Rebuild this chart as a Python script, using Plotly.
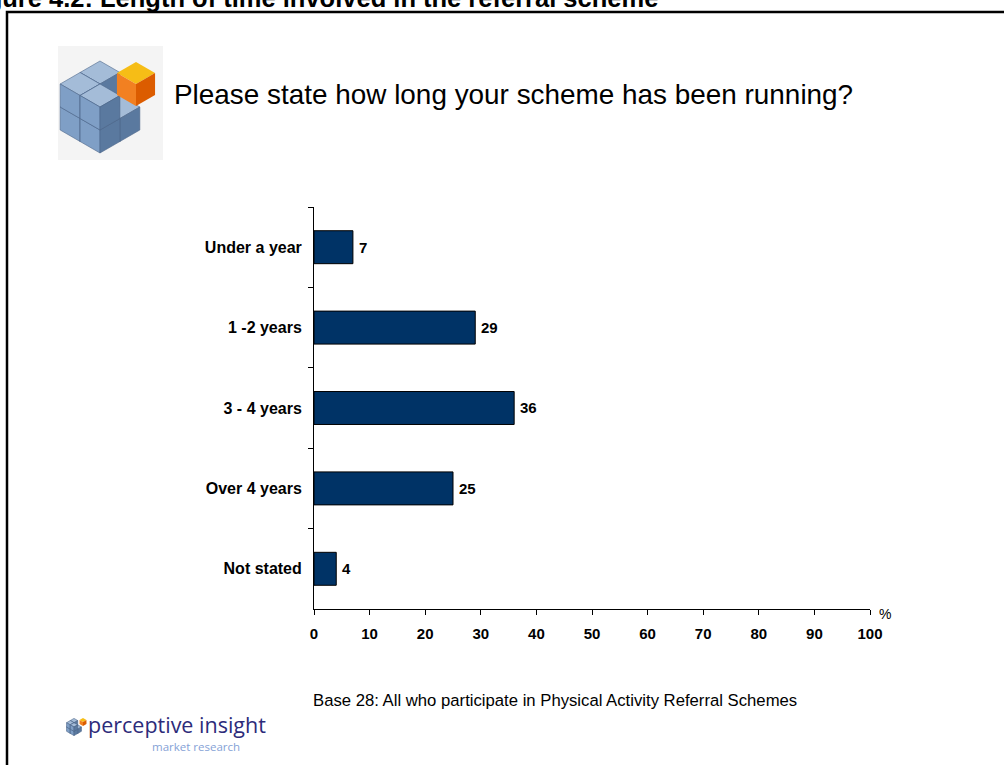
import plotly.graph_objects as go

# ---- data ----
categories = ["Under a year", "1 -2 years", "3 - 4 years", "Over 4 years", "Not stated"]
values = [7, 29, 36, 25, 4]
x_ticks = [0, 10, 20, 30, 40, 50, 60, 70, 80, 90, 100]

W, H = 1004, 765


def px(x):
    return x / W


def py(y):
    return 1 - y / H


def path(points):
    return "M " + " L ".join(f"{px(x):.5f},{py(y):.5f}" for x, y in points) + " Z"


shapes = []


def poly(points, fill, line=None, lw=0):
    shapes.append(dict(type="path", xref="paper", yref="paper", path=path(points),
                       fillcolor=fill, line=dict(color=line or fill, width=lw), layer="above"))


def cube(fx, fy, s, top, left, right, edge=None):
    k = 0.866 * s
    w = 0.6 if edge else 0
    poly([(fx, fy), (fx + k, fy - s / 2), (fx, fy - s), (fx - k, fy - s / 2)], top, edge, w)
    poly([(fx, fy), (fx - k, fy - s / 2), (fx - k, fy + s / 2), (fx, fy + s)], left, edge, w)
    poly([(fx, fy), (fx + k, fy - s / 2), (fx + k, fy + s / 2), (fx, fy + s)], right, edge, w)


# frame
shapes.append(dict(type="rect", xref="paper", yref="paper", x0=px(7), x1=px(1012), y0=py(12), y1=py(775),
                   line=dict(color="black", width=2.5), fillcolor="rgba(0,0,0,0)"))
# icon background
shapes.append(dict(type="rect", xref="paper", yref="paper", x0=px(58), x1=px(163), y0=py(46), y1=py(160),
                   line=dict(width=0), fillcolor="#f4f4f4", layer="below"))

BT, BL, BR, BE = "#a4bcd8", "#7f9fc6", "#5a799f", "#4d6689"


def blue_cluster(Xc, Yc, s, missing):
    cells = []
    for c in range(2):
        for a in range(2):
            for b in range(2):
                if (a, b, c) in missing:
                    continue
                cells.append((a, b, c))
    cells.sort(key=lambda t: (t[2], t[0] + t[1]))
    for a, b, c in cells:
        A, B, C = a + 1, b + 1, c + 1
        fx = Xc + 0.866 * s * (A - B)
        fy = Yc + 0.5 * s * (A + B) - s * C
        cube(fx, fy, s, BT, BL, BR, BE)


# big icon (top-left)
blue_cluster(100, 107, 23, {(1, 0, 1)})
cube(136, 84, 22, "#f6bd16", "#f28021", "#dc5c00")
# small icon (bottom logo)
blue_cluster(74, 727, 4.3, {(1, 0, 1)})
cube(83, 722, 4, "#f6bd16", "#f28021", "#dc5c00")

fig = go.Figure()
fig.add_trace(go.Bar(
    x=values, y=categories, orientation="h", width=0.41,
    marker=dict(color="#003366", line=dict(color="black", width=1)),
    hoverinfo="skip",
))

annotations = [
    dict(text="Figure 4.2: Length of time involved in the referral scheme", xref="paper", yref="paper",
         x=px(660), y=py(14), xanchor="right", yanchor="bottom", showarrow=False,
         font=dict(family="Liberation Sans, Arial", size=25.5, color="black", weight="bold")),
    dict(text="Please state how long your scheme has been running?", xref="paper", yref="paper",
         x=px(172), y=py(94), xanchor="left", yanchor="middle", showarrow=False,
         font=dict(family="Liberation Sans, Arial", size=27.9, color="black")),
    dict(text="%", xref="paper", yref="paper", x=px(877), y=py(614), xanchor="left", yanchor="middle",
         showarrow=False, font=dict(family="Liberation Sans, Arial", size=14, color="black")),
    dict(text="Base 28: All who participate in Physical Activity Referral Schemes", xref="paper", yref="paper",
         x=px(311), y=py(700), xanchor="left", yanchor="middle", showarrow=False,
         font=dict(family="Liberation Sans, Arial", size=16.7, color="black")),
    dict(text="perceptive insight", xref="paper", yref="paper", x=px(87), y=py(724), xanchor="left",
         yanchor="middle", showarrow=False, borderpad=0,
         font=dict(family="Open Sans", size=21.5, color="#2d2b7a")),
    dict(text="market research", xref="paper", yref="paper", x=px(151), y=py(746), xanchor="left",
         yanchor="middle", showarrow=False, borderpad=0,
         font=dict(family="Open Sans", size=11.5, color="#86a2d6")),
]

# data labels placed from the data
for c, v in zip(categories, values):
    annotations.append(dict(text=str(v), x=v, y=c, xref="x", yref="y", xanchor="left", yanchor="middle",
                            xshift=4, showarrow=False,
                            font=dict(family="Liberation Sans, Arial", size=15, color="black", weight="bold")))

fig.update_layout(
    width=W, height=H, margin=dict(l=0, r=0, t=0, b=0, pad=0, autoexpand=False), autosize=False,
    paper_bgcolor="white", plot_bgcolor="white",
    showlegend=False, shapes=shapes, annotations=annotations,
    xaxis=dict(domain=[px(314), px(870)], range=[0, 100], tickvals=x_ticks, ticks="outside", ticklen=5,
               tickcolor="black", showline=True, linecolor="black", linewidth=1, showgrid=False,
               zeroline=False, ticklabelstandoff=6, automargin=False,
               tickfont=dict(family="Liberation Sans, Arial", size=15, color="black", weight="bold"),
               fixedrange=True),
    yaxis=dict(domain=[py(609), py(207)], type="category", categoryorder="array", categoryarray=categories,
               autorange="reversed", ticks="outside", ticklen=5, tickcolor="black", tickson="boundaries",
               showline=True, linecolor="black", linewidth=1, showgrid=False, zeroline=False,
               ticklabelstandoff=8, automargin=False,
               tickfont=dict(family="Liberation Sans, Arial", size=16, color="black", weight="bold"),
               fixedrange=True),
)

fig.write_html("out.html", config={"responsive": False, "displayModeBar": False},
               post_script="document.body.style.margin='0';document.body.style.overflow='hidden';")
